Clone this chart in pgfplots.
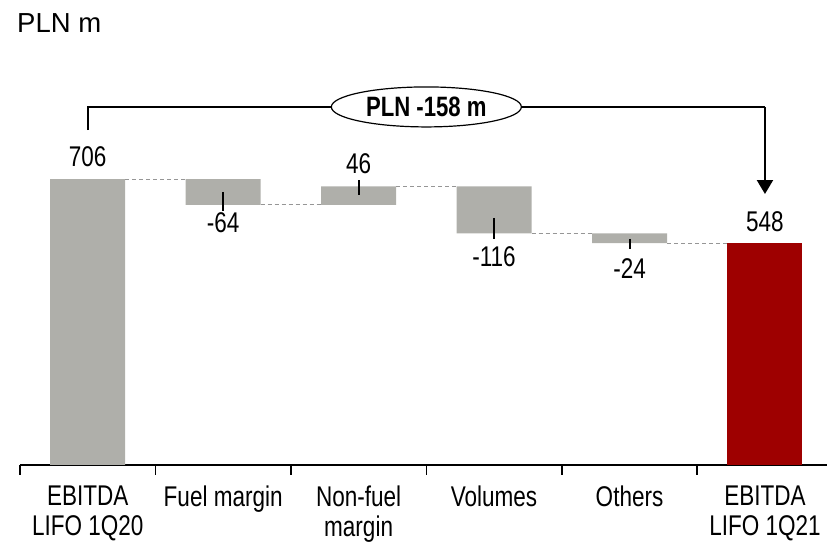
\documentclass[border=0pt]{standalone}
\usepackage{pgfplots}
\pgfplotsset{compat=1.18}
\usetikzlibrary{arrows.meta,shapes.geometric}
\usepackage{fontspec}
\setmainfont{Liberation Sans}[FakeStretch=0.79]
\newfontfamily\titlefont{Liberation Sans}
\definecolor{bargray}{RGB}{175,175,170}
\definecolor{barred}{RGB}{158,0,0}
\definecolor{dashgray}{RGB}{150,150,150}
\newcommand{\chartfont}{\fontsize{28.5bp}{28bp}\selectfont}
\pgfplotsset{
  common/.style={
    at={(20bp,79bp)}, anchor=south west,
    scale only axis, width=807bp, height=465bp,
    xmin=-0.5, xmax=5.458, ymin=0, ymax=1148,
    clip=false,
  }
}
\begin{document}
\begin{tikzpicture}
\useasboundingbox (0,0) rectangle (827bp,544bp);
\node[anchor=base west, inner sep=0pt, font=\titlefont\fontsize{27.5bp}{30bp}\selectfont] at (17bp,511bp) {PLN m};
\begin{axis}[
  common,
  hide y axis,
  axis x line*=bottom,
  xtick pos=bottom,
  x axis line style={-, line width=2bp},
  ybar stacked, bar width=75bp,
  xtick={0,...,5},
  xticklabels={{EBITDA\\[1.5bp]LIFO 1Q20},{Fuel margin},{Non-fuel\\[1.5bp]margin},{Volumes},{Others},{EBITDA\\[1.5bp]LIFO 1Q21}},
  major tick length=0pt,
  minor xtick={-0.5,0.5,...,4.5},
  minor tick length=10bp,
  tick align=outside,
  every minor tick/.append style={line width=1.5bp, black},
  xticklabel style={font=\chartfont, align=center, anchor=north, inner sep=0pt, yshift=-21bp},
]
\addplot[fill=none, draw=none] coordinates {(0,0) (1,642) (2,642) (3,572) (4,548) (5,0)};
\addplot[fill=bargray, draw=none] coordinates {(0,706) (1,64) (2,46) (3,116) (4,24) (5,0)};
\addplot[fill=barred, draw=none] coordinates {(0,0) (1,0) (2,0) (3,0) (4,0) (5,548)};
\end{axis}
\begin{axis}[common, hide axis]
% dashed connectors
\addplot[dashgray, line width=1bp, dash pattern=on 4bp off 3bp] coordinates {(0.277,706) (0.723,706)};
\addplot[dashgray, line width=1bp, dash pattern=on 4bp off 3bp] coordinates {(1.277,642) (1.723,642)};
\addplot[dashgray, line width=1bp, dash pattern=on 4bp off 3bp] coordinates {(2.277,688) (2.723,688)};
\addplot[dashgray, line width=1bp, dash pattern=on 4bp off 3bp] coordinates {(3.277,572) (3.723,572)};
\addplot[dashgray, line width=1bp, dash pattern=on 4bp off 3bp] coordinates {(4.277,548) (4.723,548)};
% label leader lines
\addplot[black, line width=2bp] coordinates {(1,674) (1,627)};
\addplot[black, line width=2bp] coordinates {(2,667) (2,704)};
\addplot[black, line width=2bp] coordinates {(3,610) (3,558)};
\addplot[black, line width=2bp] coordinates {(4,558) (4,533)};
% value labels
\addplot[only marks, mark=none, nodes near coords, point meta=explicit symbolic,
  every node near coord/.append style={anchor=center, inner sep=0pt, font=\chartfont}]
  coordinates {(0,760)[706] (1,598)[-64] (2,743)[46] (3,514)[-116] (4,486)[-24] (5,600)[548]};
% bracket
\draw[line width=2.2bp] (axis cs:0,827) -- (axis cs:0,884) -- (axis cs:5,884);
\draw[line width=2.2bp, -{Triangle[width=16bp,length=14bp]}] (axis cs:5,884) -- (axis cs:5,669);
\node[ellipse, draw, line width=1.2bp, fill=white, minimum width=190bp, minimum height=40bp, inner sep=0pt,
  font=\fontsize{28bp}{30bp}\selectfont\bfseries] at (axis cs:2.5,884) {PLN -158 m};
\end{axis}
\end{tikzpicture}
\end{document}
